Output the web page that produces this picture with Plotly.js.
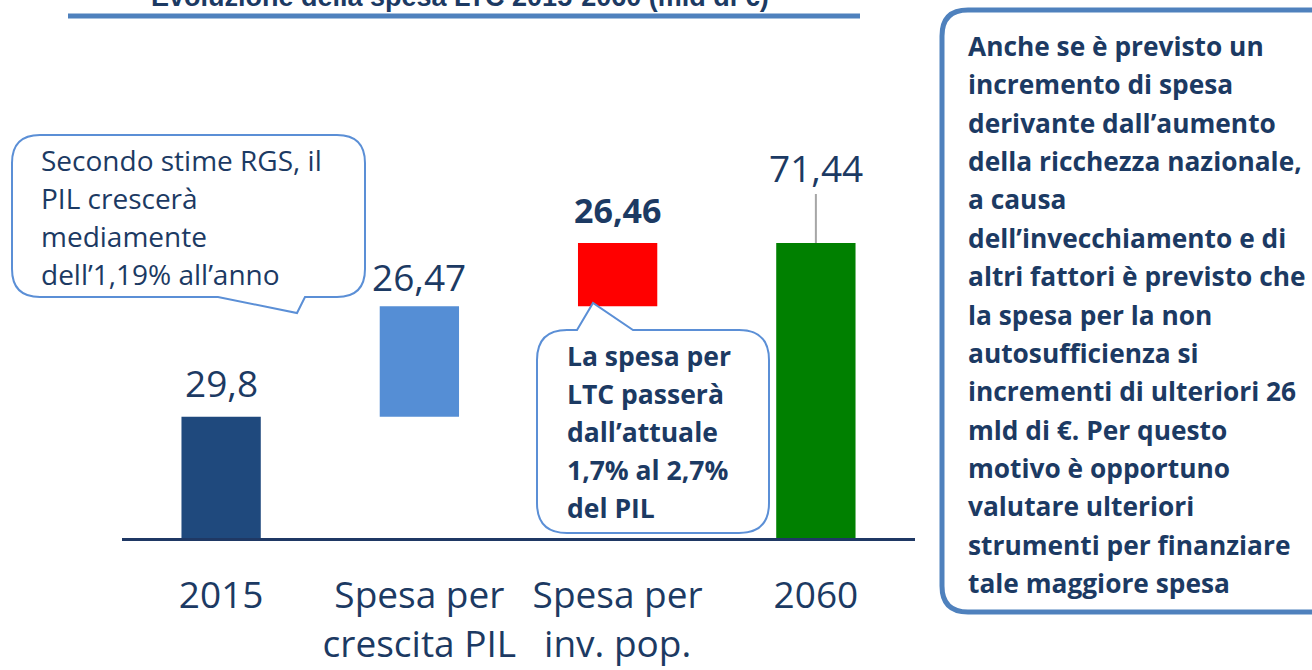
<!DOCTYPE html>
<html>
<head>
<meta charset="utf-8">
<script src="https://cdn.plot.ly/plotly-3.0.1.min.js"></script>
<style>html,body{margin:0;padding:0;background:#fff;}#chart{width:1312px;height:670px;}</style>
</head>
<body>
<div id="chart"></div>
<script>
// ---- data ----
const categories = ['2015', 'Spesa per crescita PIL', 'Spesa per inv. pop.', '2060'];
const tickLabels = ['2015', 'Spesa per<br>crescita PIL', 'Spesa per<br>inv. pop.', '2060'];
const shownValues = [29.8, 26.47, 26.46, 71.44];
const barBase = [0, 29.8, 56.27, 0];
const barHeight = [29.8, 26.47, 15.17, 71.44];
const barColors = ['#1f497d', '#558ed5', '#ff0000', '#008000'];
const titleText = 'Evoluzione della spesa LTC 2015-2060 (mld di €)';
const callout1Lines = ['Secondo stime RGS, il', 'PIL crescerà', 'mediamente', 'dell’1,19% all’anno'];
const callout2Lines = ['La spesa per', 'LTC passerà', 'dall’attuale', '1,7% al 2,7%', 'del PIL'];
const noteLines = ['Anche se è previsto un', 'incremento di spesa', 'derivante dall’aumento',
  'della ricchezza nazionale,', 'a causa', 'dell’invecchiamento e di', 'altri fattori è previsto che',
  'la spesa per la non', 'autosufficienza si', 'incrementi di ulteriori 26', 'mld di €. Per questo',
  'motivo è opportuno', 'valutare ulteriori', 'strumenti per finanziare', 'tale maggiore spesa'];

// ---- layout helpers (pixel -> paper) ----
const L = 122, R = 915, T = 124, B = 541;
const px = x => (x - L) / (R - L);
const py = y => (B - y) / (B - T);
const navy = '#1c3a63';
function pt(x, y) { return px(x).toFixed(5) + ',' + py(y).toFixed(5); }
function roundRectPath(x0, y0, x1, y1, r, extra) {
  let p = 'M' + pt(x0 + r, y0);
  if (extra && extra.top) p += extra.top.map(q => ' L' + pt(q[0], q[1])).join('');
  p += ' L' + pt(x1 - r, y0) + ' Q' + pt(x1, y0) + ' ' + pt(x1, y0 + r);
  p += ' L' + pt(x1, y1 - r) + ' Q' + pt(x1, y1) + ' ' + pt(x1 - r, y1);
  if (extra && extra.bottom) p += extra.bottom.map(q => ' L' + pt(q[0], q[1])).join('');
  p += ' L' + pt(x0 + r, y1) + ' Q' + pt(x0, y1) + ' ' + pt(x0, y1 - r);
  p += ' L' + pt(x0, y0 + r) + ' Q' + pt(x0, y0) + ' ' + pt(x0 + r, y0) + ' Z';
  return p;
}
const fmt = v => String(v).replace('.', ',');

const trace = {
  type: 'bar',
  x: categories,
  y: barHeight,
  base: barBase,
  width: 0.4,
  marker: { color: barColors, line: { width: 0 } },
  hoverinfo: 'skip'
};

const shapes = [
  { type: 'line', xref: 'paper', yref: 'paper', x0: px(68), x1: px(860), y0: py(16), y1: py(16),
    line: { color: '#4f81bd', width: 5 } },
  { type: 'line', xref: 'paper', yref: 'y', x0: 0, x1: 1, y0: 0, y1: 0,
    line: { color: '#1f3864', width: 6 } },
  { type: 'path', xref: 'paper', yref: 'paper', fillcolor: '#ffffff', line: { color: '#5b8fd6', width: 2 },
    path: roundRectPath(12, 135, 365, 297, 28, { bottom: [[305, 297], [297, 313], [218, 297]] }) },
  { type: 'path', xref: 'paper', yref: 'paper', fillcolor: '#ffffff', line: { color: '#5b8fd6', width: 2 },
    path: roundRectPath(537, 330, 769, 533, 30, { top: [[577, 330], [593, 303], [633, 330]] }) },
  { type: 'path', xref: 'paper', yref: 'paper', fillcolor: 'rgba(0,0,0,0)', line: { color: '#4f81bd', width: 5 },
    path: roundRectPath(942, 10, 1340, 612, 26) }
];

const annotations = [];
annotations.push({ xref: 'paper', yref: 'paper', x: px(460), y: py(14), xanchor: 'center', yanchor: 'bottom',
  showarrow: false, text: '<b>' + titleText + '</b>',
  font: { family: 'Liberation Sans, Arial, sans-serif', size: 27, color: navy } });
const labelShift = [34, 30, 33, 0];
shownValues.forEach((v, i) => {
  if (i === 3) {
    annotations.push({ x: i, y: barBase[i] + barHeight[i], xref: 'x', yref: 'y',
      text: fmt(v), showarrow: true, arrowhead: 0, arrowwidth: 2, arrowcolor: '#a6a6a6',
      ax: 0, ay: -76, standoff: 0,
      font: { family: 'Open Sans, sans-serif', size: 37, color: navy } });
  } else {
    annotations.push({ x: i, y: barBase[i] + barHeight[i], xref: 'x', yref: 'y',
      yanchor: 'middle', yshift: labelShift[i], showarrow: false,
      text: i === 2 ? '<b>' + fmt(v) + '</b>' : fmt(v),
      font: { family: 'Open Sans, sans-serif', size: i === 2 ? 34 : 37, color: navy } });
  }
});
callout1Lines.forEach((t, i) => annotations.push({ xref: 'paper', yref: 'paper', x: px(39), y: py(160 + i * 38),
  xanchor: 'left', yanchor: 'middle', showarrow: false, text: t,
  font: { family: 'Open Sans, sans-serif', size: 28, color: navy } }));
callout2Lines.forEach((t, i) => annotations.push({ xref: 'paper', yref: 'paper', x: px(565), y: py(356 + i * 38),
  xanchor: 'left', yanchor: 'middle', showarrow: false, text: '<b>' + t + '</b>',
  font: { family: 'Open Sans, sans-serif', size: 26.5, color: navy } }));
noteLines.forEach((t, i) => annotations.push({ xref: 'paper', yref: 'paper', x: px(966), y: py(46 + i * 38.36),
  xanchor: 'left', yanchor: 'middle', showarrow: false, text: '<b>' + t + '</b>',
  font: { family: 'Open Sans, sans-serif', size: 26.3, color: navy } }));

const layout = {
  width: 1312, height: 670,
  margin: { l: L, r: 1312 - R, t: T, b: 670 - B },
  paper_bgcolor: '#ffffff', plot_bgcolor: '#ffffff',
  showlegend: false,
  xaxis: { type: 'category', range: [-0.5, 3.5], tickvals: categories, ticktext: tickLabels,
    showgrid: false, zeroline: false, showline: false, ticks: 'outside', ticklen: 22,
    tickcolor: 'rgba(0,0,0,0)', tickfont: { family: 'Open Sans, sans-serif', size: 37, color: navy } },
  yaxis: { range: [0, 100], visible: false, showgrid: false, zeroline: false },
  shapes: shapes,
  annotations: annotations
};

Plotly.newPlot('chart', [trace], layout, { displayModeBar: false, staticPlot: true });
</script>
</body>
</html>
